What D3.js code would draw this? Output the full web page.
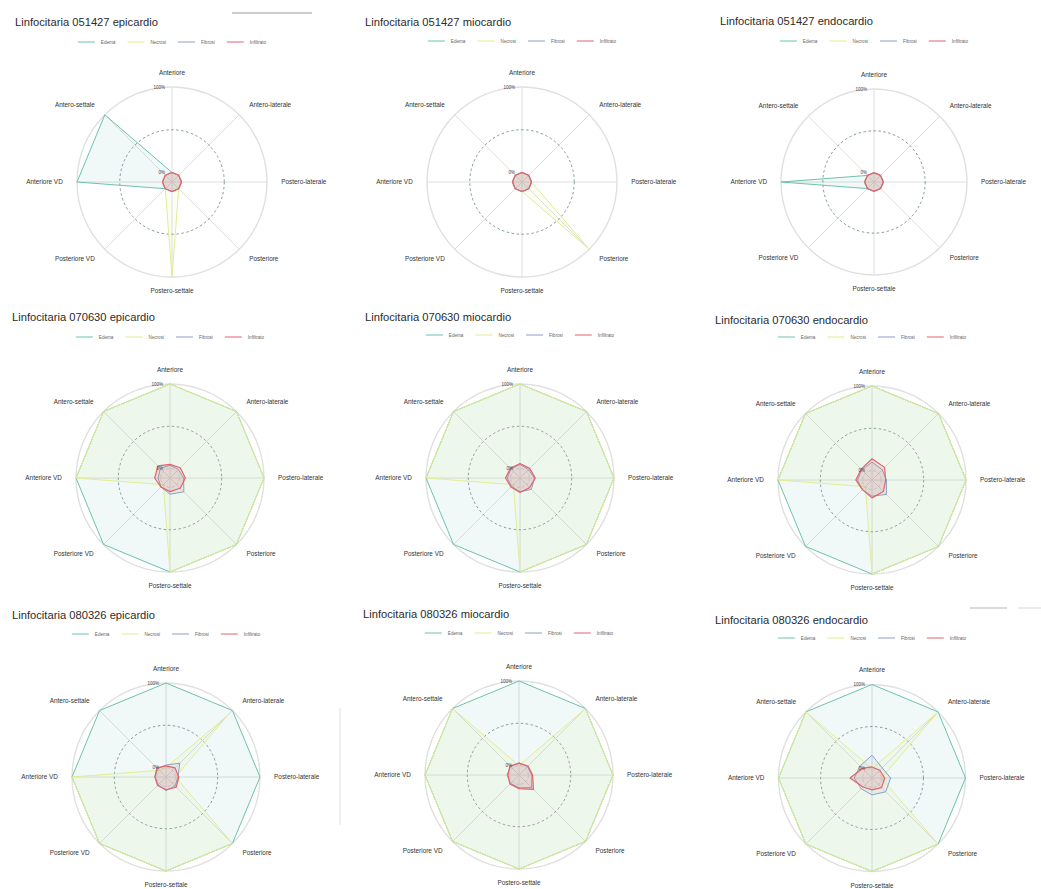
<!DOCTYPE html>
<html>
<head>
<meta charset="utf-8">
<script src="https://cdn.jsdelivr.net/npm/d3@7"></script>
<style>
  html, body { margin: 0; padding: 0; background: #ffffff; }
  svg { display: block; font-family: "Liberation Sans", Arial, sans-serif; }
</style>
</head>
<body>
<svg id="chart" width="1041" height="889"></svg>
<script>
// Segments around the ring, clockwise from the top
const segments = ["Anteriore", "Antero-laterale", "Postero-laterale", "Posteriore",
                  "Postero-settale", "Posteriore VD", "Anteriore VD", "Antero-settale"];
const lesions = ["Edema", "Necrosi", "Fibrosi", "Infiltrato"];
const gridLabels = ["0%", "100%"];

const panelTitles = [
  "Linfocitaria 051427 epicardio", "Linfocitaria 051427 miocardio", "Linfocitaria 051427 endocardio",
  "Linfocitaria 070630 epicardio", "Linfocitaria 070630 miocardio", "Linfocitaria 070630 endocardio",
  "Linfocitaria 080326 epicardio", "Linfocitaria 080326 miocardio", "Linfocitaria 080326 endocardio"
];

// Fraction of each segment affected, rows: Edema, Necrosi, Fibrosi, Infiltrato
const v051427Epicardio = [
  [0, 0, 0, 0, 0, 0, 1, 1],
  [0, 0, 0, 0, 1, 0, 0, 0],
  [0, 0, 0, 0, 0, 0, 0, 0],
  [0, 0, 0, 0, 0, 0, 0, 0]
];
const v051427Miocardio = [
  [0, 0, 0, 0, 0, 0, 0, 0],
  [0, 0, 0, 1, 0, 0, 0, 0],
  [0, 0, 0, 0, 0, 0, 0, 0],
  [0, 0, 0, 0, 0, 0, 0, 0]
];
const v051427Endocardio = [
  [0, 0, 0, 0, 0, 0, 1, 0],
  [0, 0, 0, 0, 0, 0, 0, 0],
  [0, 0, 0, 0, 0, 0, 0, 0],
  [0, 0, 0, 0, 0, 0, 0, 0]
];
const v070630Epicardio = [
  [1, 1, 1, 1, 1, 1, 1, 1],
  [1, 1, 1, 1, 1, 0, 1, 1],
  [0.04, 0.03, 0.05, 0.12, 0.08, 0.04, 0.03, 0.05],
  [0.05, 0.06, 0.07, 0.06, 0.05, 0.04, 0.07, 0.09]
];
const v070630Miocardio = [
  [1, 1, 1, 1, 1, 1, 1, 1],
  [1, 1, 1, 1, 1, 0, 1, 1],
  [0.05, 0.03, 0.06, 0.08, 0.05, 0.03, 0.04, 0.04],
  [0.06, 0.05, 0.07, 0.05, 0.06, 0.04, 0.06, 0.05]
];
const v070630Endocardio = [
  [1, 1, 1, 1, 1, 1, 1, 1],
  [1, 1, 1, 1, 1, 0, 1, 1],
  [0.10, 0.06, 0.06, 0.13, 0.08, 0.05, 0.06, 0.06],
  [0.14, 0.10, 0.05, 0.08, 0.10, 0.05, 0.08, 0.07]
];
const v080326Epicardio = [
  [1, 1, 1, 1, 1, 1, 1, 1],
  [0, 0.92, 0, 1, 1, 1, 1, 0],
  [0.03, 0.12, 0.03, 0.04, 0.05, 0.02, 0.02, 0.03],
  [0.02, 0.04, 0.04, 0.06, 0.04, 0.03, 0.02, 0.04]
];
const v080326Miocardio = [
  [1, 1, 1, 1, 1, 1, 1, 1],
  [0, 1, 1, 1, 1, 1, 1, 1],
  [0.03, 0.03, 0.04, 0.10, 0.04, 0.03, 0.03, 0.03],
  [0.03, 0.04, 0.05, 0.13, 0.05, 0.04, 0.02, 0.04]
];
const v080326Endocardio = [
  [1, 1, 1, 1, 1, 1, 1, 1],
  [0, 1, 0, 1, 1, 1, 1, 1],
  [0.16, 0.06, 0.11, 0.12, 0.09, 0.07, 0.10, 0.09],
  [0.02, 0.02, 0.04, 0.05, 0.03, 0.04, 0.15, 0.05]
];

const panelValues = [
  v051427Epicardio, v051427Miocardio, v051427Endocardio,
  v070630Epicardio, v070630Miocardio, v070630Endocardio,
  v080326Epicardio, v080326Miocardio, v080326Endocardio
];

// Panel geometry: radar centre, radius, title anchor, legend row
const layout = [
  { cx: 172, cy: 182, r: 95, tx: 15,  ty: 26,  ly: 42 },
  { cx: 522, cy: 182, r: 95, tx: 365, ty: 26,  ly: 41 },
  { cx: 874, cy: 182, r: 93, tx: 720, ty: 25,  ly: 41 },
  { cx: 170, cy: 478, r: 94, tx: 12,  ty: 321, ly: 337 },
  { cx: 520, cy: 478, r: 94, tx: 365, ty: 321, ly: 335 },
  { cx: 872, cy: 480, r: 94, tx: 715, ty: 324, ly: 337 },
  { cx: 166, cy: 777, r: 94, tx: 12,  ty: 619, ly: 634 },
  { cx: 519, cy: 775, r: 94, tx: 363, ty: 618, ly: 633 },
  { cx: 872, cy: 778, r: 93.5, tx: 715, ty: 624, ly: 638 }
];

const colour = d3.scaleOrdinal()
  .domain(lesions)
  .range(["#6CC3AC", "#E3EC92", "#8E9FC4", "#E2636C"]);
const fillOpacity = d3.scaleOrdinal()
  .domain(lesions)
  .range([0.1, 0.1, 0.1, 0.16]);

const svg = d3.select("#chart");

// Stray rules present on the sheet
const rules = [
  [232, 13, 312, 13, "#9a9a9a"],
  [970, 608, 1007, 608, "#b5b5b5"],
  [1018, 608, 1041, 608, "#dddddd"],
  [340, 708, 340, 825, "#e6e6e6"]
];
svg.selectAll("line.rule").data(rules).join("line")
  .attr("class", "rule")
  .attr("x1", d => d[0]).attr("y1", d => d[1])
  .attr("x2", d => d[2]).attr("y2", d => d[3])
  .attr("stroke", d => d[4]).attr("stroke-width", 1.2);

const angle = d3.scaleLinear().domain([0, segments.length]).range([0, 2 * Math.PI]);
const centreValue = -1 / 9;

panelValues.forEach((vals, i) => {
  const L = layout[i];
  const g = svg.append("g");
  const rad = d3.scaleLinear().domain([centreValue, 1]).range([0, L.r]);
  const plot = g.append("g").attr("transform", `translate(${L.cx},${L.cy})`);

  // title
  g.append("text")
    .attr("x", L.tx).attr("y", L.ty)
    .attr("font-size", 11.2).attr("fill", "#2b2b2b")
    .text(panelTitles[i]);

  // legend
  const leg = g.append("g");
  let x = 0;
  lesions.forEach(name => {
    const it = leg.append("g");
    it.append("line").attr("x1", 0).attr("x2", 17).attr("y1", 0).attr("y2", 0)
      .attr("stroke", colour(name)).attr("stroke-width", 1);
    const t = it.append("text").attr("x", 23).attr("y", 1.6)
      .attr("font-size", 4.6).attr("fill", "#666").text(name);
    const w = 23 + t.node().getComputedTextLength();
    it.attr("transform", `translate(${x},0)`);
    x += w + 12;
  });
  const total = x - 12;
  leg.attr("transform", `translate(${L.cx - total / 2},${L.ly})`);

  // spokes
  plot.selectAll("line.spoke").data(segments).join("line")
    .attr("class", "spoke")
    .attr("x1", 0).attr("y1", 0)
    .attr("x2", (d, k) => rad(1) * Math.sin(angle(k)))
    .attr("y2", (d, k) => -rad(1) * Math.cos(angle(k)))
    .attr("stroke", "#dedede").attr("stroke-width", 1);

  // grid rings
  plot.append("circle").attr("r", rad(1)).attr("fill", "none")
    .attr("stroke", "#e0e0e0").attr("stroke-width", 1.4);
  plot.append("circle").attr("r", rad(0.5)).attr("fill", "none")
    .attr("stroke", "#4f6e70").attr("stroke-width", 0.7).attr("stroke-dasharray", "2.5,2.5");
  plot.append("circle").attr("r", rad(0)).attr("fill", "none")
    .attr("stroke", "#bbbbbb").attr("stroke-width", 0.6).attr("stroke-dasharray", "3,2");

  // series polygons
  const radial = d3.lineRadial()
    .angle((d, k) => angle(k))
    .radius(d => rad(d))
    .curve(d3.curveLinearClosed);
  vals.forEach((series, s) => {
    plot.append("path")
      .attr("d", radial(series))
      .attr("fill", colour(lesions[s])).attr("fill-opacity", fillOpacity(lesions[s]))
      .attr("stroke", colour(lesions[s])).attr("stroke-width", s === 3 ? 1.2 : 1)
      .attr("stroke-linejoin", "round");
  });

  // ring value labels
  [0, 1].forEach((v, k) => {
    plot.append("text")
      .attr("x", -7).attr("y", -rad(v) + 1.5)
      .attr("text-anchor", "end").attr("font-size", 4.5).attr("fill", "#444")
      .text(gridLabels[k]);
  });

  // segment labels
  plot.selectAll("text.seg").data(segments).join("text")
    .attr("class", "seg")
    .attr("x", (d, k) => rad(1) * 1.15 * Math.sin(angle(k)))
    .attr("y", (d, k) => -rad(1) * 1.15 * Math.cos(angle(k)) + 2)
    .attr("text-anchor", (d, k) => {
      const sx = Math.sin(angle(k));
      return Math.abs(sx) < 0.01 ? "middle" : (sx > 0 ? "start" : "end");
    })
    .attr("font-size", 6.4).attr("fill", "#333")
    .text(d => d);
});
</script>
</body>
</html>
